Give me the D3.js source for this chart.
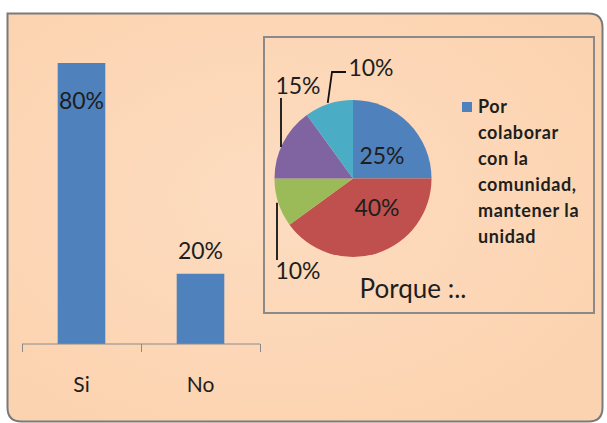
<!DOCTYPE html>
<html><head><meta charset="utf-8">
<script src="https://cdn.jsdelivr.net/npm/d3@7/dist/d3.min.js"></script>
<style>body{margin:0;background:#fff}svg{display:block}</style>
</head><body>
<svg id="c" width="607" height="423"></svg>
<script>
const barCategories = ["Si", "No"];
const barValues = [80, 20];
const barLabels = ["80%", "20%"];
const pieValues = [25, 40, 10, 15, 10];
const pieLabels = ["25%", "40%", "10%", "15%", "10%"];
const pieColors = ["#4F81BD", "#C0504D", "#9BBB59", "#8064A2", "#4BACC6"];
const legendLines = ["Por", "colaborar", "con la", "comunidad,", "mantener la", "unidad"];
const pieTitle = "Porque :..";

const svg = d3.select("#c");
const font = "Lato, 'Open Sans', sans-serif";
const txt = "#1e1e1e";

const defs = svg.append("defs");
const rg = defs.append("radialGradient").attr("id","bg").attr("cx","45%").attr("cy","45%").attr("r","65%");
rg.append("stop").attr("offset","0%").attr("stop-color","#FDDCC0");
rg.append("stop").attr("offset","100%").attr("stop-color","#FCD3B0");

// frame: square top-left, rounded elsewhere
const fx0 = 7.5, fy0 = 13.5, fx1 = 602.5, fy1 = 421.5, rr = 14;
svg.append("path")
  .attr("d",`M${fx0},${fy0}H${fx1-rr}Q${fx1},${fy0} ${fx1},${fy0+rr}V${fy1-rr}Q${fx1},${fy1} ${fx1-rr},${fy1}H${fx0+rr}Q${fx0},${fy1} ${fx0},${fy1-rr}Z`)
  .attr("fill","url(#bg)").attr("stroke","#7a7a7a").attr("stroke-width",2);

// Bar chart
const x = d3.scaleBand().domain(barCategories).range([22, 260]).paddingInner(0.6).paddingOuter(0.3);
const y = d3.scaleLinear().domain([0, 80]).range([344, 63]);

svg.append("g").selectAll("rect").data(barValues).join("rect")
  .attr("x",(d,i)=>x(barCategories[i])).attr("width",x.bandwidth())
  .attr("y",d=>y(d)).attr("height",d=>y(0)-y(d)).attr("fill","#4F81BD");

const axis = d3.axisBottom(d3.scalePoint().domain([0,1,2]).range([22,260])).tickSize(8).tickFormat("");
svg.append("g").attr("transform","translate(0,344)").call(axis)
  .call(g=>g.select(".domain").attr("stroke","#8a8a8a").attr("d","M22,0H260"))
  .call(g=>g.selectAll(".tick line").attr("stroke","#8a8a8a"));

svg.append("g").selectAll("text").data(barCategories).join("text")
  .attr("x",d=>x(d)+x.bandwidth()/2).attr("y",392).attr("text-anchor","middle")
  .attr("font-family",font).attr("font-size",21).attr("fill",txt).text(d=>d);

svg.append("g").selectAll("text").data(barValues).join("text")
  .attr("x",(d,i)=>x(barCategories[i])+x.bandwidth()/2)
  .attr("y",(d,i)=> i===0 ? y(d)+46 : y(d)-15)
  .attr("text-anchor","middle").attr("font-family",font).attr("font-size",23).attr("fill",txt)
  .text((d,i)=>barLabels[i]);

// Pie box
svg.append("rect").attr("x",264).attr("y",37).attr("width",330).attr("height",276)
  .attr("fill","none").attr("stroke","#8a8a8a").attr("stroke-width",2);

const cx = 353, cy = 178.5, r = 78.5;
const pie = d3.pie().sort(null).value(d=>d);
const arcs = pie(pieValues);
const arc = d3.arc().innerRadius(0).outerRadius(r);
const pg = svg.append("g").attr("transform",`translate(${cx},${cy})`);
pg.selectAll("path").data(arcs).join("path").attr("d",arc).attr("fill",(d,i)=>pieColors[i]);

const inner = [{i:0,x:382,y:164},{i:1,x:377,y:216}];
svg.append("g").selectAll("text").data(inner).join("text")
  .attr("x",d=>d.x).attr("y",d=>d.y).attr("text-anchor","middle")
  .attr("font-family",font).attr("font-size",23).attr("fill",txt).text(d=>pieLabels[d.i]);

function pt(a, rr){ return [cx + rr*Math.sin(a), cy - rr*Math.cos(a)]; }
const mid = d => (d.startAngle+d.endAngle)/2;
const lineG = svg.append("g").attr("stroke","#111").attr("stroke-width",1.8).attr("fill","none");
{ const p = pt(mid(arcs[2]), r); lineG.append("path").attr("d",`M277,${p[1]}V260`); }
{ const p = pt(d3.interpolate(arcs[3].startAngle, arcs[3].endAngle)(0.35), r); lineG.append("path").attr("d",`M281,${p[1]-6}V98`); }
{ const p = pt(mid(arcs[4]), r); lineG.append("path").attr("d",`M${p[0]-1},${p[1]-1}L332,72H346`); }

const outer = [{i:2,x:298,y:279},{i:3,x:298,y:94},{i:4,x:371,y:76}];
svg.append("g").selectAll("text").data(outer).join("text")
  .attr("x",d=>d.x).attr("y",d=>d.y).attr("text-anchor","middle")
  .attr("font-family",font).attr("font-size",23).attr("fill",txt).text(d=>pieLabels[d.i]);

svg.append("rect").attr("x",462).attr("y",102).attr("width",10).attr("height",10).attr("fill",pieColors[0]);
svg.append("g").selectAll("text").data(legendLines).join("text")
  .attr("x",478).attr("y",(d,i)=>113+i*26)
  .attr("font-family",font).attr("font-size",18).attr("font-weight","bold")
  .attr("letter-spacing",0.6).attr("fill",txt).text(d=>d);

svg.append("text").attr("x",413).attr("y",298).attr("text-anchor","middle")
  .attr("font-family",font).attr("font-size",26).attr("fill",txt).text(pieTitle);
</script>
</body></html>
